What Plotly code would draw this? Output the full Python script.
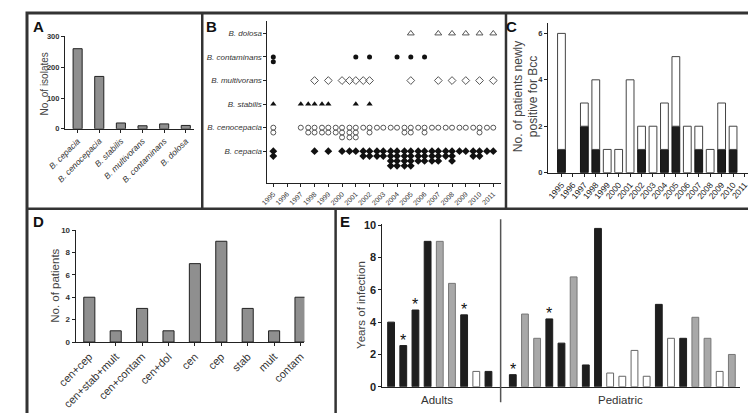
import plotly.graph_objects as go

W, H = 756, 413
FONT = "Arial, 'Liberation Sans', sans-serif"

# ---------------- data ----------------
# Panel A
a_species = ["B. cepacia", "B. cenocepacia", "B. stabilis", "B. multivorans", "B. contaminans", "B. dolosa"]
a_isolates = [260, 170, 19, 10, 16, 11]

# Panel B (number of dots per species per year)
b_years = list(range(1995, 2012))
b_species = ["B. cepacia", "B. cenocepacia", "B. stabilis", "B. multivorans", "B. contaminans", "B. dolosa"]
b_cepacia = [4, 0, 0, 1, 1, 1, 2, 4, 4, 8, 8, 6, 6, 5, 2, 4, 2]
b_cenocepacia = [3, 0, 1, 4, 4, 5, 6, 3, 2, 2, 4, 3, 2, 2, 2, 3, 2]
b_stabilis = [1, 0, 1, 2, 2, 0, 1, 1, 0, 0, 0, 0, 0, 0, 0, 0, 0]
b_multivorans = [0, 0, 0, 1, 1, 1, 2, 2, 0, 0, 1, 0, 1, 1, 1, 1, 1]
b_contaminans = [4, 0, 0, 0, 0, 0, 1, 1, 0, 1, 1, 1, 0, 0, 0, 0, 0]
b_dolosa = [0, 0, 0, 0, 0, 0, 0, 0, 0, 0, 1, 0, 1, 1, 1, 1, 1]

# Panel C
c_years = list(range(1995, 2012))
c_black = [1, 0, 2, 1, 0, 0, 0, 1, 0, 1, 2, 0, 1, 0, 1, 1, 0]
c_total = [6, 0, 3, 4, 1, 1, 4, 2, 2, 3, 5, 2, 2, 1, 3, 2, 0]

# Panel D
d_groups = ["cen+cep", "cen+stab+mult", "cen+contam", "cen+dol", "cen", "cep", "stab", "mult", "contam"]
d_patients = [4, 1, 3, 1, 7, 9, 3, 1, 4]

# Panel E
e_adult_years = [4, 2.55, 4.75, 9, 9, 6.4, 4.45, 0.95, 0.95]
e_adult_type = ["k", "k", "k", "k", "g", "g", "k", "w", "k"]
e_adult_star = [0, 1, 1, 0, 0, 0, 1, 0, 0]
e_ped_years = [0.75, 4.5, 3, 4.2, 2.7, 6.8, 1.35, 9.8, 0.85, 0.65, 2.25, 0.65, 5.1, 3, 3, 4.3, 3, 0.95, 2]
e_ped_type = ["k", "g", "g", "k", "k", "g", "k", "k", "w", "w", "w", "w", "k", "w", "k", "g", "g", "w", "g"]
e_ped_star = [1, 0, 0, 1, 0, 0, 0, 0, 0, 0, 0, 0, 0, 0, 0, 0, 0, 0, 0]


# ---------------- helpers ----------------
def xd(l, r):
    return [l / W, r / W]


def yd(top, bottom):
    return [1 - bottom / H, 1 - top / H]


def px(x):
    return x / W


def py(y):
    return 1 - y / H


AX = "#222222"
TXT = "#333333"

fig = go.Figure()

# ---------------- Panel A ----------------
fig.add_trace(go.Bar(
    x=list(range(len(a_species))), y=a_isolates, width=0.42,
    marker=dict(color="#8f8f8f", line=dict(color="#222", width=1)),
    xaxis="x", yaxis="y", showlegend=False, hoverinfo="skip"))

# ---------------- Panel B ----------------
b_styles = [
    (b_cepacia, dict(symbol="diamond", size=6, color="#111")),
    (b_cenocepacia, dict(symbol="circle-open", size=5, color="#555", line=dict(width=1))),
    (b_stabilis, dict(symbol="triangle-up", size=5.5, color="#111")),
    (b_multivorans, dict(symbol="diamond-open", size=6, color="#555", line=dict(width=1))),
    (b_contaminans, dict(symbol="circle", size=5, color="#111")),
    (b_dolosa, dict(symbol="triangle-up-open", size=6, color="#555", line=dict(width=1))),
]
for level, (counts, mk) in enumerate(b_styles):
    xs, ys = [], []
    for yr, n in zip(b_years, counts):
        for k in range(n):
            row, col = divmod(k, 2)
            xs.append(yr - col * 0.46)
            ys.append(level - row * 0.207)
    fig.add_trace(go.Scatter(x=xs, y=ys, mode="markers", marker=mk, cliponaxis=False,
                             xaxis="x2", yaxis="y2", showlegend=False, hoverinfo="skip"))

# ---------------- Panel C ----------------
c_white = [t - b for t, b in zip(c_total, c_black)]
fig.add_trace(go.Bar(
    x=c_years, y=[v if v else None for v in c_black], width=0.68,
    marker=dict(color="#1c1c1c", line=dict(color="#111", width=1)),
    xaxis="x3", yaxis="y3", showlegend=False, hoverinfo="skip"))
fig.add_trace(go.Bar(
    x=c_years, y=[v if v else None for v in c_white], base=c_black, width=0.68,
    marker=dict(color="white", line=dict(color="#444", width=1)),
    xaxis="x3", yaxis="y3", showlegend=False, hoverinfo="skip"))

# ---------------- Panel D ----------------
fig.add_trace(go.Bar(
    x=list(range(len(d_groups))), y=d_patients, width=0.42,
    marker=dict(color="#8f8f8f", line=dict(color="#222", width=1)),
    xaxis="x4", yaxis="y4", showlegend=False, hoverinfo="skip"))

# ---------------- Panel E ----------------
fill = {"k": "#1e1e1e", "g": "#a8a8a8", "w": "#ffffff"}
edge = {"k": "#1e1e1e", "g": "#777777", "w": "#666666"}
e_vals = e_adult_years + e_ped_years
e_types = e_adult_type + e_ped_type
e_stars = e_adult_star + e_ped_star
e_x = list(range(len(e_adult_years))) + [len(e_adult_years) + 1 + i for i in range(len(e_ped_years))]
fig.add_trace(go.Bar(
    x=e_x, y=e_vals, width=0.56,
    marker=dict(color=[fill[t] for t in e_types], line=dict(color=[edge[t] for t in e_types], width=1)),
    xaxis="x5", yaxis="y5", showlegend=False, hoverinfo="skip"))

annotations = []
for xv, yv, s in zip(e_x, e_vals, e_stars):
    if s:
        annotations.append(dict(x=xv, y=yv, xref="x5", yref="y5", text="*", showarrow=False,
                                yanchor="bottom", yshift=-5, font=dict(size=16, color="#111111")))

# ---------------- axes ----------------
common_ax = dict(showline=True, linecolor=AX, linewidth=1, ticks="outside", ticklen=3,
                 tickcolor=AX, showgrid=False, zeroline=False, fixedrange=True)

layout_axes = dict(
    xaxis=dict(common_ax, domain=xd(39, 172), range=[-0.585, 5.4], anchor="y",
               tickmode="array", tickvals=list(range(len(a_species))),
               ticktext=["<i>%s</i>" % s for s in a_species], tickangle=-45,
               tickfont=dict(size=8.5, color=TXT)),
    yaxis=dict(common_ax, domain=yd(24, 119), range=[0, 300], anchor="x",
               tickvals=[0, 100, 200, 300], tickfont=dict(size=7.5, color=TXT, weight="bold")),
    xaxis2=dict(common_ax, domain=xd(247, 487), range=[1994.575, 2011.57], anchor="y2",
                tickmode="array", tickvals=b_years, ticktext=[str(y) for y in b_years],
                tickangle=-45, tickfont=dict(size=7, color=TXT)),
    yaxis2=dict(common_ax, domain=yd(8, 175), range=[-1.364, 5.537], anchor="x2",
                tickmode="array", tickvals=list(range(len(b_species))),
                ticktext=["<i>%s</i>" % s for s in b_species], tickfont=dict(size=8, color=TXT)),
    xaxis3=dict(common_ax, domain=xd(535, 745), range=[1993.81, 2011.68], anchor="y3",
                tickmode="array", tickvals=c_years, ticktext=[str(y) for y in c_years],
                tickangle=-50, tickfont=dict(size=8.5, color="#222")),
    yaxis3=dict(common_ax, domain=yd(10, 164), range=[0, 6.46], anchor="x3",
                tickvals=[0, 2, 4, 6], tickfont=dict(size=7.5, color=TXT, weight="bold")),
    xaxis4=dict(common_ax, domain=xd(50, 285), range=[-0.516, 8.15], anchor="y4",
                tickmode="array", tickvals=list(range(len(d_groups))), ticktext=d_groups,
                tickangle=-45, tickfont=dict(size=11, color=TXT)),
    yaxis4=dict(common_ax, domain=yd(223, 338), range=[0, 10], anchor="x4",
                tickvals=[0, 2, 4, 6, 8, 10], tickfont=dict(size=8, color=TXT, weight="bold")),
    xaxis5=dict(common_ax, domain=xd(365, 732), range=[-0.72, 28.64], anchor="y5",
                ticks="", showticklabels=False),
    yaxis5=dict(common_ax, domain=yd(217, 384), range=[0, 10.06], anchor="x5",
                tickvals=[0, 2, 4, 6, 8, 10], tickfont=dict(size=11, color="#222", weight="bold")),
)

# ---------------- titles / letters ----------------
def ann(x, y, text, size, angle=0, bold=False, color=TXT):
    return dict(x=px(x), y=py(y), xref="paper", yref="paper", text=text, showarrow=False,
                textangle=angle, xanchor="center", yanchor="middle",
                font=dict(size=size, color=color, weight="bold" if bold else "normal"))

annotations += [
    ann(12, 14, "A", 15, bold=True, color="#111"),
    ann(190, 14, "B", 15, bold=True, color="#111"),
    ann(498, 14, "C", 15, bold=True, color="#111"),
    ann(12, 214, "D", 15, bold=True, color="#111"),
    ann(327, 214, "E", 15, bold=True, color="#111"),
    ann(18, 73, "No. of isolates", 10, angle=-90, color="#444"),
    ann(512, 86, "No. of patients newly<br>positive for Bcc", 12, angle=-90, color="#444"),
    ann(28, 280, "No. of patients", 11.5, angle=-90, color="#444"),
    ann(343, 300, "Years of infection", 11.5, angle=-90, color="#444"),
    ann(421, 398, "Adults", 11.5, color="#333"),
    ann(610, 398, "Pediatric", 11.5, color="#333"),
]

BORDER = "#333333"
shapes = [
    dict(type="rect", xref="paper", yref="paper", x0=0, y0=0, x1=1, y1=1,
         line=dict(color=BORDER, width=3)),
    dict(type="line", xref="paper", yref="paper", x0=0, x1=1, y0=py(201), y1=py(201),
         line=dict(color=BORDER, width=2.5)),
    dict(type="line", xref="paper", yref="paper", x0=px(180), x1=px(180), y0=1, y1=py(201),
         line=dict(color=BORDER, width=2.5)),
    dict(type="line", xref="paper", yref="paper", x0=px(492), x1=px(492), y0=1, y1=py(201),
         line=dict(color=BORDER, width=2.5)),
    dict(type="line", xref="paper", yref="paper", x0=px(317), x1=px(317), y0=py(201), y1=0,
         line=dict(color=BORDER, width=2.5)),
    dict(type="line", xref="x5", yref="paper", x0=len(e_adult_years), x1=len(e_adult_years),
         y0=py(400), y1=py(212), line=dict(color="#555", width=1.5)),
]

fig.update_layout(
    width=W, height=H, margin=dict(l=0, r=0, t=0, b=0),
    paper_bgcolor="white", plot_bgcolor="white",
    font=dict(family=FONT, color=TXT),
    barmode="overlay", showlegend=False, hovermode=False,
    annotations=annotations, shapes=shapes,
    **layout_axes,
)

fig.write_html("out.html")
